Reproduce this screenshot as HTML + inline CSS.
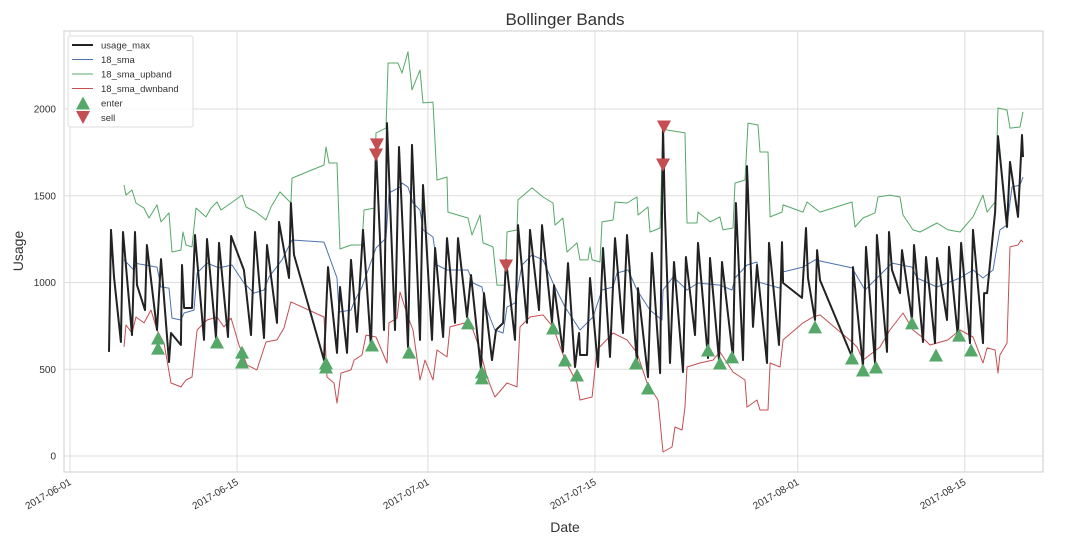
<!DOCTYPE html>
<html><head><meta charset="utf-8"><style>
body{margin:0;background:#fff;font-family:"Liberation Sans",sans-serif}
svg text{font-family:"Liberation Sans",sans-serif;fill:#333}
</style></head><body>
<svg id="c" width="1078" height="543"></svg>
<script>
const tickDates=["2017-06-01","2017-06-15","2017-07-01","2017-07-15","2017-08-01","2017-08-15"];
const tickDays=[0,14,30,44,61,75];
const yTicks=[0,500,1000,1500,2000];
const usageDays=[3.27,3.44,3.69,4.27,4.44,5.2,5.45,5.62,6.29,6.45,7.29,7.63,8.3,8.47,9.3,9.39,9.56,10.23,10.48,11.23,11.48,12.24,12.49,13.24,13.5,14.58,15.17,15.51,16.26,16.51,17.35,17.52,18.36,18.52,18.78,21.29,21.63,22.38,22.63,23.22,23.55,24.06,24.56,25.23,25.65,26.32,26.57,27.24,27.58,28.33,28.67,29.34,29.59,30.34,30.6,31.27,31.6,32.27,32.52,33.28,33.61,34.45,34.7,35.37,35.71,36.3,36.55,37.3,37.55,38.31,38.56,39.31,39.56,40.4,40.57,41.32,41.74,42.33,42.67,42.75,43.34,43.59,44.26,44.68,45.26,45.68,46.35,46.69,47.53,47.61,48.45,48.78,49.46,49.71,49.87,50.29,50.63,51.38,51.63,52.39,52.64,53.48,53.65,54.4,54.65,55.57,55.82,56.41,56.75,57.25,57.59,58.42,58.59,59.43,59.68,59.77,61.36,61.69,61.86,62.45,62.62,62.87,65.55,65.63,66.47,66.72,67.48,67.64,68.48,68.65,68.9,69.57,69.74,70.58,70.75,71.5,71.75,72.51,72.67,73.51,73.68,74.43,74.69,75.44,75.69,76.53,76.62,76.87,77.54,77.79,78.54,78.79,79.46,79.8,79.88];
const usageVals=[600,1303,1032,657,1291,697,1291,985,841,1216,726,1135,542,709,640,1101,853,853,1274,669,1251,680,1228,686,1268,1072,697,1291,680,1216,767,1349,1026,1458,1159,553,1089,594,974,594,1130,715,1303,628,1775,726,1919,726,1781,628,1793,669,1562,669,1199,686,1256,767,1256,801,1043,496,939,553,726,767,1130,669,1331,767,1303,841,1331,767,985,600,1112,513,709,582,582,1026,513,1199,571,1256,709,1274,536,968,455,1170,478,1896,1401,536,1118,484,1147,697,1228,565,1141,553,1118,565,1458,553,1671,744,1101,536,1228,640,1233,997,911,1314,1026,784,1187,1014,571,1089,513,1205,536,1274,600,1291,1072,939,1187,784,1216,657,1147,651,1141,784,1205,686,1228,651,1303,651,939,939,1406,1844,1320,1695,1378,1850,1723];
const smaDays=[4.53,5.36,5.53,7.29,7.63,8.3,8.55,9.3,9.56,10.39,10.65,11.48,12.49,13.58,14.58,15.42,16.26,16.68,17.77,18.61,21.29,22.38,22.55,23.55,23.81,24.48,25.65,26.49,26.74,27.66,27.83,28.33,28.75,29.34,29.59,30.43,30.76,31.6,33.36,33.78,34.53,34.95,35.62,36.3,36.63,37.3,37.89,38.73,39.65,40.49,41.49,42.75,43.84,44.59,45.52,45.85,46.77,47.53,48.62,49.62,49.71,50.55,51.72,52.64,54.48,55.49,55.74,56.75,57.59,57.67,59.51,59.77,61.44,62.45,65.55,66.64,67.9,68.9,70.58,71.0,72.67,74.6,75.69,76.53,77.37,77.95,78.54,78.96,79.63,79.88];
const smaVals=[1130,1072,1110,1089,974,968,795,784,824,841,1055,1112,1084,1101,997,939,957,1032,1130,1245,1233,1026,830,841,888,974,1199,1256,1516,1550,1573,1550,1458,1418,1303,1262,1101,1072,1072,997,974,841,726,709,859,882,1101,1159,1130,997,859,726,801,957,974,1055,1072,957,841,784,957,1032,957,997,985,957,1026,1101,1118,1003,968,1061,1089,1130,1084,957,1043,1112,1089,1026,974,1026,1072,1026,1072,1303,1331,1550,1562,1608];
const upDays=[4.53,4.69,5.2,5.53,6.2,6.62,7.29,7.63,8.3,8.55,9.3,9.47,9.72,10.23,10.56,11.4,11.82,12.32,12.66,13.5,14.42,14.75,15.59,16.43,16.85,17.6,18.52,18.61,21.29,21.46,21.71,22.38,22.63,23.55,24.48,24.64,25.48,25.65,26.49,26.66,27.49,27.83,28.33,28.67,29.34,29.59,30.43,30.76,31.6,31.68,33.36,33.7,34.37,34.62,35.46,35.79,36.46,36.63,37.47,37.55,38.73,39.65,40.49,40.65,41.32,41.66,42.5,42.75,43.42,43.59,43.76,44.43,44.59,45.52,45.68,46.69,47.53,47.61,48.45,48.62,49.46,49.71,50.04,51.55,51.72,52.56,52.64,53.65,54.48,54.74,55.57,55.74,56.58,56.83,57.67,57.84,58.51,58.68,59.68,59.77,61.44,61.78,62.87,65.55,65.8,66.47,67.48,67.73,68.73,69.57,69.82,70.66,71.25,72.67,73.6,74.6,75.69,76.53,76.87,77.54,77.79,78.54,78.79,79.63,79.88];
const upVals=[1562,1504,1533,1458,1429,1372,1447,1349,1401,1176,1187,1291,1216,1205,1429,1378,1429,1464,1418,1458,1504,1435,1406,1360,1435,1522,1458,1602,1677,1781,1689,1689,1193,1216,1216,1418,1429,1862,1890,2265,2265,2207,2329,2110,2225,2035,2040,1591,1608,1406,1372,1274,1389,1228,1205,985,985,1291,1303,1476,1545,1493,1458,1331,1372,1176,1228,1130,1130,1205,1130,1118,1349,1360,1464,1458,1493,1389,1435,1291,1314,1896,1879,1862,1343,1343,1406,1349,1378,1303,1314,1573,1591,1919,1908,1752,1752,1378,1406,1447,1406,1464,1406,1464,1320,1372,1401,1493,1504,1493,1389,1303,1291,1343,1303,1291,1378,1504,1406,1464,2006,1994,1890,1896,1983];
const dnDays=[4.53,4.69,5.2,5.53,6.2,6.79,7.29,7.88,8.47,9.3,9.72,10.23,10.65,11.48,12.32,12.91,13.5,14.17,14.84,15.67,16.43,17.35,17.94,18.52,21.29,21.54,22.13,22.38,22.72,23.55,23.81,24.48,24.81,25.65,26.57,26.74,27.41,27.66,28.33,28.75,29.34,29.76,30.43,30.76,31.6,31.85,33.11,33.78,34.37,34.95,35.62,36.63,37.47,37.72,38.56,39.65,40.49,41.49,42.5,42.75,43.76,44.17,45.52,46.69,47.53,48.37,49.29,49.71,50.46,50.71,51.3,51.55,51.72,52.81,53.9,54.48,55.57,56.58,56.75,57.59,57.84,58.51,58.68,59.51,59.77,61.44,62.28,62.87,65.55,65.97,66.47,67.9,68.73,69.82,70.66,71.42,72.09,73.6,74.6,75.69,76.53,76.87,77.54,77.79,77.95,78.54,78.79,79.46,79.72,79.88];
const dnVals=[628,755,709,801,767,841,726,651,421,398,438,455,726,784,801,744,795,640,524,496,657,669,738,888,801,455,421,305,478,496,553,582,697,686,536,767,795,945,801,726,438,553,438,611,571,744,767,726,611,455,340,421,398,744,801,813,744,553,421,323,340,611,709,669,594,421,323,23,52,167,150,282,513,536,553,600,484,438,282,323,265,265,536,513,669,767,801,813,657,628,553,628,726,824,726,686,640,669,726,686,536,623,611,478,582,651,1205,1216,1245,1233];
const enterDays=[7.38,7.38,12.32,14.42,14.42,21.46,21.46,25.31,28.42,33.36,34.53,34.53,40.49,41.49,42.5,47.44,48.45,53.48,54.48,55.49,62.45,65.55,66.47,67.56,70.58,72.59,74.52,75.53];
const enterVals=[680,622,657,599,542,536,513,640,599,767,484,450,738,553,467,536,392,611,536,571,744,565,496,513,767,582,697,611];
const sellDays=[25.73,25.65,36.55,49.79,49.71];
const sellVals=[1793,1735,1095,1896,1677];

const NS="http://www.w3.org/2000/svg";
const svg=document.getElementById('c');
const L=64,R=1043,T=31,B=472;
const xs=d=>70+d*11.93;
const ys=v=>456-v*0.1735;
function mk(tag,attrs,parent){const e=document.createElementNS(NS,tag);for(const k in attrs)e.setAttribute(k,attrs[k]);(parent||svg).appendChild(e);return e;}

const frame=mk('rect',{x:L,y:T,width:R-L,height:B-T,fill:'#fff',stroke:'#ccc','stroke-width':1});



yTicks.forEach(v=>{
  const g=mk('line',{x1:L,x2:R,y1:ys(v),y2:ys(v),stroke:'#ddd','stroke-width':1});
  
  
  const t=mk('text',{x:L-8,y:ys(v)+3.5,'text-anchor':'end','font-size':10});
  t.textContent=v;
  
  
});
tickDays.forEach((d,i)=>{
  const g=mk('line',{x1:xs(d),x2:xs(d),y1:T,y2:B,stroke:'#ddd','stroke-width':1});
  
  
  const t=mk('text',{x:xs(d)+2,y:B+12,'text-anchor':'end','font-size':10,transform:`rotate(-30 ${xs(d)+2} ${B+12})`});
  t.textContent=tickDates[i];
  
  
});

function line(days,vals,color,w,name){
  const p=days.map((d,i)=>(i?'L':'M')+xs(d).toFixed(1)+','+ys(vals[i]).toFixed(1)).join('');
  const e=mk('path',{d:p,fill:'none',stroke:color,'stroke-width':w,'stroke-linejoin':'round'});
  
  
}
line(upDays,upVals,'#55a868',1,'upband-line');
line(dnDays,dnVals,'#c44e52',1,'dwnband-line');
line(smaDays,smaVals,'#4c72b0',1,'sma-line');
line(usageDays,usageVals,'#222',2,'usage-max-line');

function tri(cx,cy,up,color){
  const h=6.5,w=7;
  const pts=up?`${cx},${cy-h} ${cx-w},${cy+h} ${cx+w},${cy+h}`:`${cx},${cy+h} ${cx-w},${cy-h} ${cx+w},${cy-h}`;
  return mk('polygon',{points:pts,fill:color});
}
enterDays.forEach((d,i)=>{
  const e=tri(xs(d),ys(enterVals[i]),true,'#55a868');
  
  
});
sellDays.forEach((d,i)=>{
  const e=tri(xs(d),ys(sellVals[i]),false,'#c44e52');
  
  
});

const title=mk('text',{x:565,y:25,'text-anchor':'middle','font-size':17});
title.textContent='Bollinger Bands';


const xl=mk('text',{x:565,y:532,'text-anchor':'middle','font-size':14});
xl.textContent='Date';


const yl=mk('text',{x:23,y:251,'text-anchor':'middle','font-size':14,transform:'rotate(-90 23 251)'});
yl.textContent='Usage';



const lg=mk('g',{});


mk('rect',{x:68,y:36,width:125,height:91,rx:2,fill:'#fff',stroke:'#ddd','fill-opacity':0.85},lg);
const items=[['usage_max','#222',2,'line'],['18_sma','#4c72b0',1,'line'],['18_sma_upband','#55a868',1,'line'],['18_sma_dwnband','#c44e52',1,'line'],['enter','#55a868',0,'up'],['sell','#c44e52',0,'down']];
items.forEach((it,i)=>{
  const y=45+i*14.5;
  const g=mk('g',{},lg);
  
  
  if(it[3]==='line') mk('line',{x1:72,x2:93,y1:y,y2:y,stroke:it[1],'stroke-width':it[2]},g);
  else {const p=tri(83,y,it[3]==='up',it[1]);g.appendChild(p);}
  const t=mk('text',{x:101,y:y+3.5,'font-size':9.5},g);
  t.textContent=it[0];
});
</script>
</body></html>
